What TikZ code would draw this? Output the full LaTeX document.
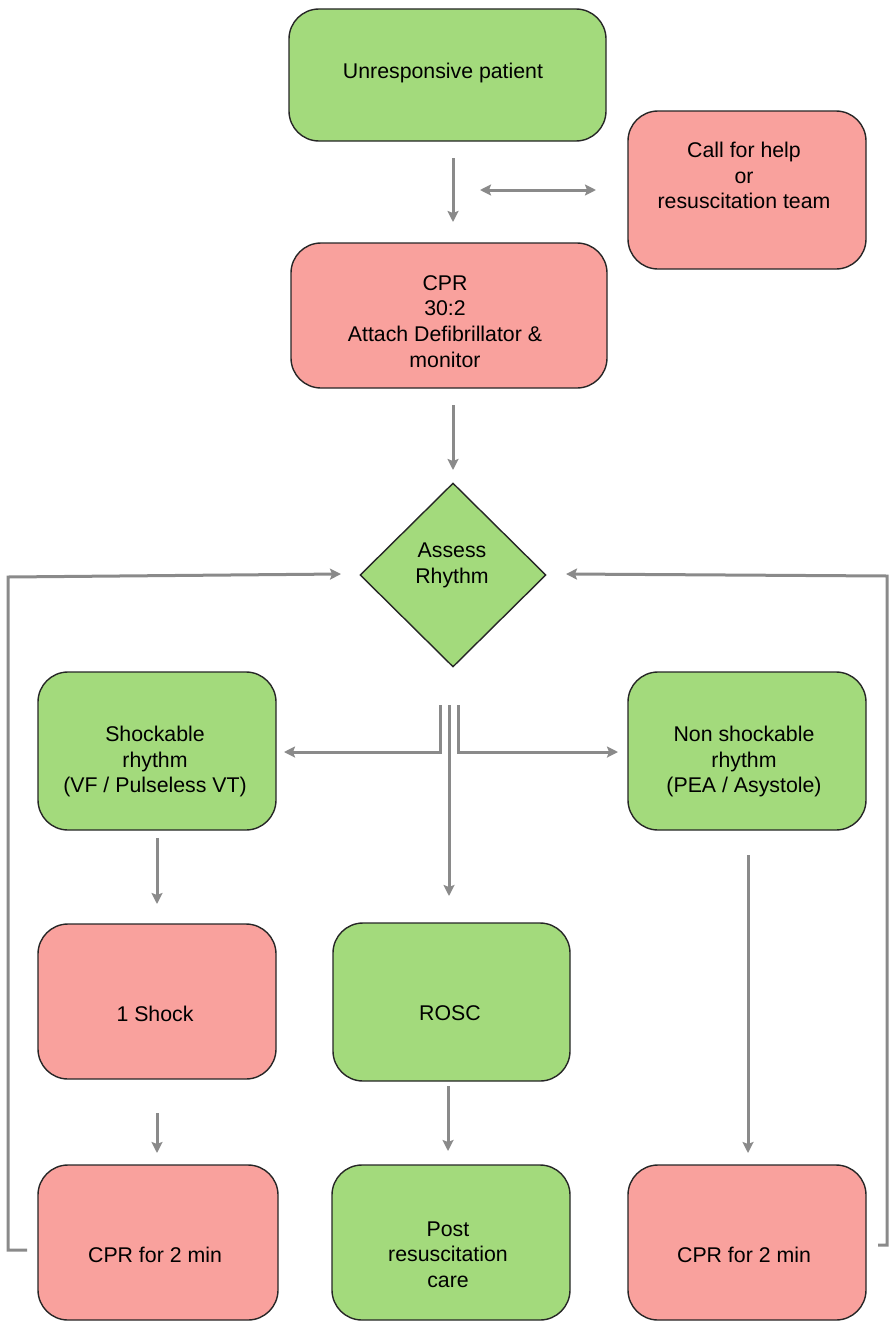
\documentclass[tikz,border=0pt]{standalone}
\usepackage{fontspec}
\setmainfont{Liberation Sans}
\usetikzlibrary{shapes.geometric,arrows.meta}
\definecolor{boxgreen}{HTML}{A3DA7C}
\definecolor{boxpink}{HTML}{F9A19D}
\definecolor{arrgray}{HTML}{8A8A8A}
\tikzset{
  box/.style={draw=black!85, line width=1.4pt, rounded corners=30pt, inner sep=0pt},
  gbox/.style={box, fill=boxgreen},
  pbox/.style={box, fill=boxpink},
  txt/.style={align=center, font=\fontsize{21.3}{25.7}\selectfont, inner sep=0pt, yshift=-2.5pt},
  arr/.style={draw=arrgray, line width=3pt, -{Stealth[length=11pt,width=11pt,inset=2pt]}},
  dbl/.style={draw=arrgray, line width=3pt, {Stealth[length=11pt,width=11pt,inset=2pt]}-{Stealth[length=11pt,width=11pt,inset=2pt]}},
}
\begin{document}
\begin{tikzpicture}[x=1pt,y=-1pt]
\useasboundingbox (0,0) rectangle (889,1322);
\node[gbox, minimum width=317pt, minimum height=132pt] (start) at (447.5,75) {};
\node[txt] (startT) at (443,70) {Unresponsive patient};
\node[pbox, minimum width=238pt, minimum height=158pt] (help) at (747,190) {};
\node[txt] (helpT) at (744,173) {Call for help\\or\\resuscitation team};
\node[pbox, minimum width=316pt, minimum height=145pt] (cpr) at (449,315.5) {};
\node[txt] (cprT) at (445,319) {CPR\\30:2\\Attach Defibrillator \&\\monitor};
\node[diamond, draw=black!85, line width=1.4pt, fill=boxgreen, minimum width=186pt, minimum height=184pt, inner sep=0pt] (assess) at (453,575) {};
\node[txt] (assessT) at (452,563) {Assess\\Rhythm};
\node[gbox, minimum width=238pt, minimum height=158pt] (shockable) at (157,751) {};
\node[txt] (shockableT) at (155,759) {Shockable\\rhythm\\(VF / Pulseless VT)};
\node[gbox, minimum width=238pt, minimum height=158pt] (nonshock) at (747,751) {};
\node[txt] (nonshockT) at (744,759) {Non shockable\\rhythm\\(PEA / Asystole)};
\node[pbox, minimum width=238pt, minimum height=155pt] (oneshock) at (157,1001.5) {};
\node[txt] (oneshockT) at (155,1011) {1 Shock};
\node[gbox, minimum width=237pt, minimum height=158pt] (rosc) at (451.5,1002) {};
\node[txt] (roscT) at (450,1011) {ROSC};
\node[pbox, minimum width=240pt, minimum height=155pt] (cprL) at (158,1242.5) {};
\node[txt] (cprLT) at (155,1252) {CPR for 2 min};
\node[gbox, minimum width=238pt, minimum height=155pt] (post) at (451,1242.5) {};
\node[txt] (postT) at (448,1252) {Post\\resuscitation\\care};
\node[pbox, minimum width=238pt, minimum height=155pt] (cprR) at (747,1242.5) {};
\node[txt] (cprRT) at (744,1252) {CPR for 2 min};

% arrow end points
\coordinate (a1s) at (453,158); \coordinate (a1e) at (453,222);
\coordinate (h1) at (480,190); \coordinate (h2) at (596,190);
\coordinate (a2s) at (453,405); \coordinate (a2e) at (453,470);
\coordinate (tL) at (440,705); \coordinate (tM) at (449,705); \coordinate (tR) at (458,705);
\coordinate (shE) at (284,752); \coordinate (nsE) at (618,752);
\coordinate (roE) at (449,896);
\coordinate (s1s) at (157,838); \coordinate (s1e) at (157,904);
\coordinate (s2s) at (157,1113); \coordinate (s2e) at (157,1153);
\coordinate (r1s) at (448,1086); \coordinate (r1e) at (448,1151);
\coordinate (n1s) at (748,855); \coordinate (n1e) at (748,1153);
\coordinate (lS) at (27,1250); \coordinate (lE) at (341,574);
\coordinate (rS) at (878,1245); \coordinate (rE) at (566,574);

\draw[arr] (a1s) -- (a1e);
\draw[dbl] (h1) -- (h2);
\draw[arr] (a2s) -- (a2e);
\draw[arr] (tL) |- (shE);
\draw[arr] (tR) |- (nsE);
\draw[arr] (tM) -- (roE);
\draw[arr] (s1s) -- (s1e);
\draw[arr] (s2s) -- (s2e);
\draw[arr] (r1s) -- (r1e);
\draw[arr] (n1s) -- (n1e);
\draw[arr] (lS) -- (8,1250) -- (8,577) -- (lE);
\draw[arr] (rS) -- (887,1245) -- (887,576) -- (rE);
\end{tikzpicture}
\end{document}
